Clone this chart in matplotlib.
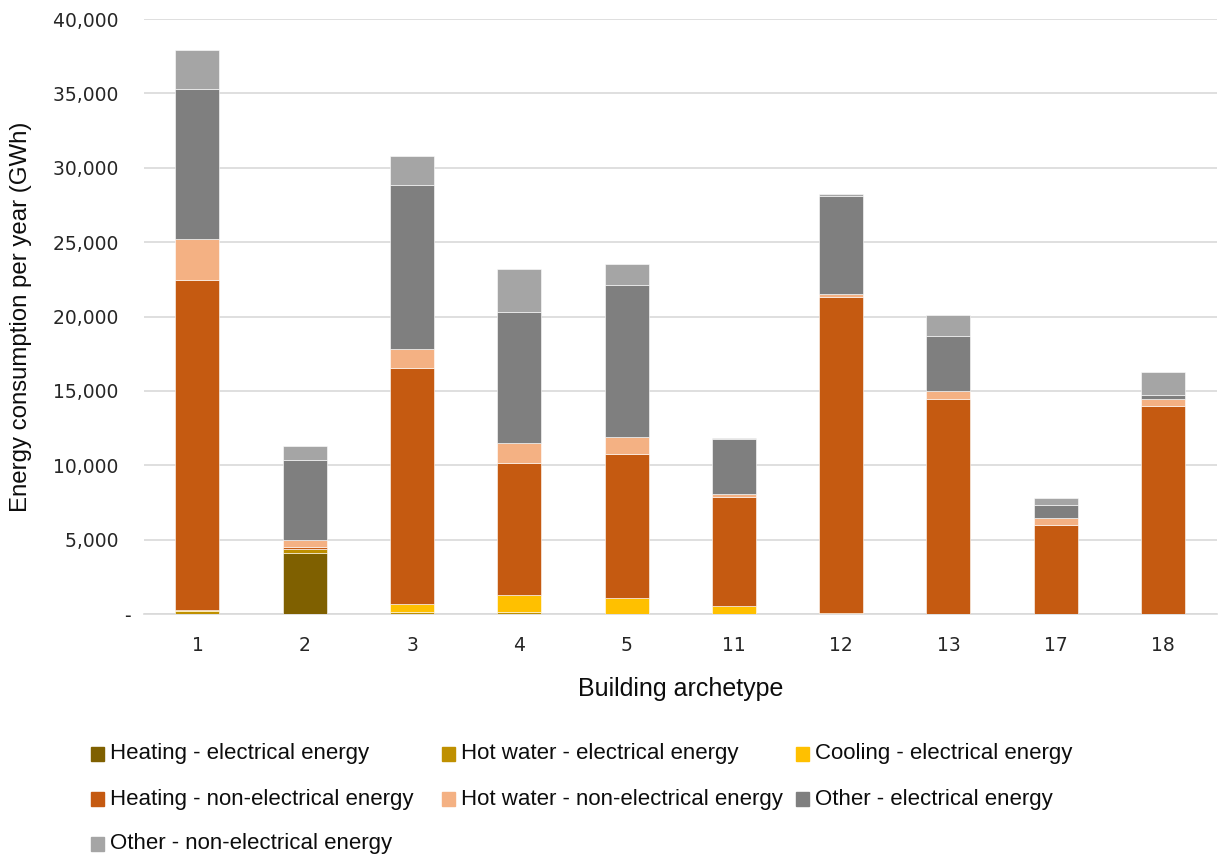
import numpy as np
import matplotlib
matplotlib.use("Agg")
import matplotlib.pyplot as plt
from matplotlib.patches import Rectangle

# Energy consumption per building archetype (GWh per year)
archetypes = ["1", "2", "3", "4", "5", "11", "12", "13", "17", "18"]

heating_el = [20, 4080, 0, 0, 0, 0, 0, 0, 0, 0]
hot_water_el = [160, 290, 160, 160, 0, 0, 0, 0, 0, 0]
cooling_el = [110, 0, 490, 1120, 1075, 540, 80, 30, 30, 30]
heating_nel = [22185, 150, 15870, 8850, 9680, 7330, 21250, 14420, 5950, 13975]
hot_water_nel = [2735, 470, 1280, 1345, 1145, 200, 160, 550, 470, 445]
other_el = [10085, 5370, 11065, 8850, 10220, 3720, 6590, 3690, 880, 295]
other_nel = [2620, 950, 1950, 2850, 1410, 60, 135, 1410, 470, 1525]

series = [
    ("Heating - electrical energy", heating_el, "#7f6000"),
    ("Hot water - electrical energy", hot_water_el, "#bf9000"),
    ("Cooling - electrical energy", cooling_el, "#ffc000"),
    ("Heating - non-electrical energy", heating_nel, "#c55a11"),
    ("Hot water - non-electrical energy", hot_water_nel, "#f4b183"),
    ("Other - electrical energy", other_el, "#7f7f7f"),
    ("Other - non-electrical energy", other_nel, "#a5a5a5"),
]

plt.rcParams["font.family"] = ["DejaVu Sans"]
label_font = ["Liberation Sans", "DejaVu Sans"]

fig = plt.figure(figsize=(12.19, 8.56), dpi=100)
ax = fig.add_axes([0.118, 0.2827, 0.88, 0.6951])

x = np.arange(len(archetypes))
bottom = np.zeros(len(archetypes))
for name, vals, color in series:
    vals = np.array(vals, dtype=float)
    ax.bar(x, vals, width=0.41, bottom=bottom, color=color,
           edgecolor="white", linewidth=0.4, zorder=3)
    bottom += vals

ax.set_ylim(0, 40000)
ax.set_xlim(-0.5, len(archetypes) - 0.5)
ax.set_yticks(np.arange(0, 40001, 5000))
ax.set_yticklabels(["-" if v == 0 else f"{v:,}  " for v in range(0, 40001, 5000)],
                   fontsize=13.5)
ax.set_xticks(x)
ax.set_xticklabels(archetypes, fontsize=13.5)
ax.tick_params(axis="both", length=0, colors="#262626")
ax.tick_params(axis="y", pad=9.5)
ax.tick_params(axis="x", pad=16)

ax.grid(axis="y", color="#d9d9d9", linewidth=1.2, zorder=0)
for side in ["top", "right", "left"]:
    ax.spines[side].set_visible(False)
ax.spines["bottom"].set_color("#d9d9d9")
ax.spines["bottom"].set_linewidth(1.2)

ax.set_ylabel("Energy consumption per year (GWh)", fontsize=17.3,
              family=label_font, color="#0d0d0d", va="center")
ax.yaxis.set_label_coords(-0.1146, 0.5)
ax.set_xlabel("Building archetype", fontsize=18, family=label_font,
              color="#0d0d0d", labelpad=16)

# legend laid out in three columns under the axis
col_x = [91, 442, 796]
row_y = [754, 799, 844]
W, H = 1219, 856
for i, (name, vals, color) in enumerate(series):
    cx = col_x[i % 3]
    cy = row_y[i // 3]
    fig.patches.append(Rectangle((cx / W, (H - cy - 7) / H), 13 / W, 14 / H,
                                 transform=fig.transFigure, color=color))
    fig.text((cx + 19) / W, (H - cy) / H, name, fontsize=16, family=label_font,
             va="center", ha="left", color="#0d0d0d")

fig.savefig("out.png", dpi=100)
